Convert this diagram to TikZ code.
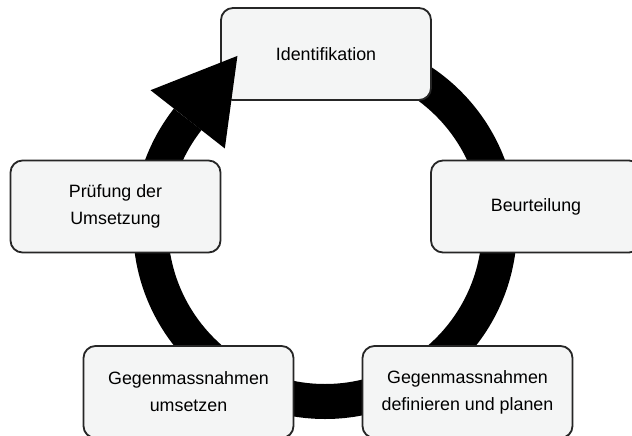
\documentclass[tikz,border=0pt]{standalone}
\usepackage{fontspec}
\setmainfont{Liberation Sans}
\usepackage{tikz}
\usepackage{xcolor}
\definecolor{boxgray}{RGB}{244,245,245}

\begin{document}
\begin{tikzpicture}[
	stage/.style={draw=black!85, fill=boxgray, line width=1.3pt, rounded corners=0.3cm,
		minimum width=5.25cm, minimum height=2.3cm, align=center,
		font=\fontsize{12.7}{19.2}\selectfont},
	ring/.style={line width=0.875cm, black}]
			\useasboundingbox (0,0) rectangle (15.8,10.875);
			\coordinate (mid) at (8.125,5.2);
			\draw[ring] (mid) ++(90:4.3625) arc[start angle=90, end angle=-218.1, radius=4.3625] coordinate (arrowbase);
			\node[stage] (ident) at (8.15,9.525) {Identifikation};
			\node[stage] (beurt) at (13.4,5.7125) {Beurteilung};
			\node[stage] (define) at (11.6875,1.075) {Gegenmassnahmen\\definieren und planen};
			\node[stage] (apply) at (4.7125,1.075) {Gegenmassnahmen\\umsetzen};
			\node[stage] (check) at (2.8875,5.7125) {Prüfung der\\Umsetzung};
			\fill[black, shift={(arrowbase)}] (141.9:1.18) -- (51.9:2.015) -- (-38.1:1.18) -- cycle;
		\end{tikzpicture}
\end{document}
